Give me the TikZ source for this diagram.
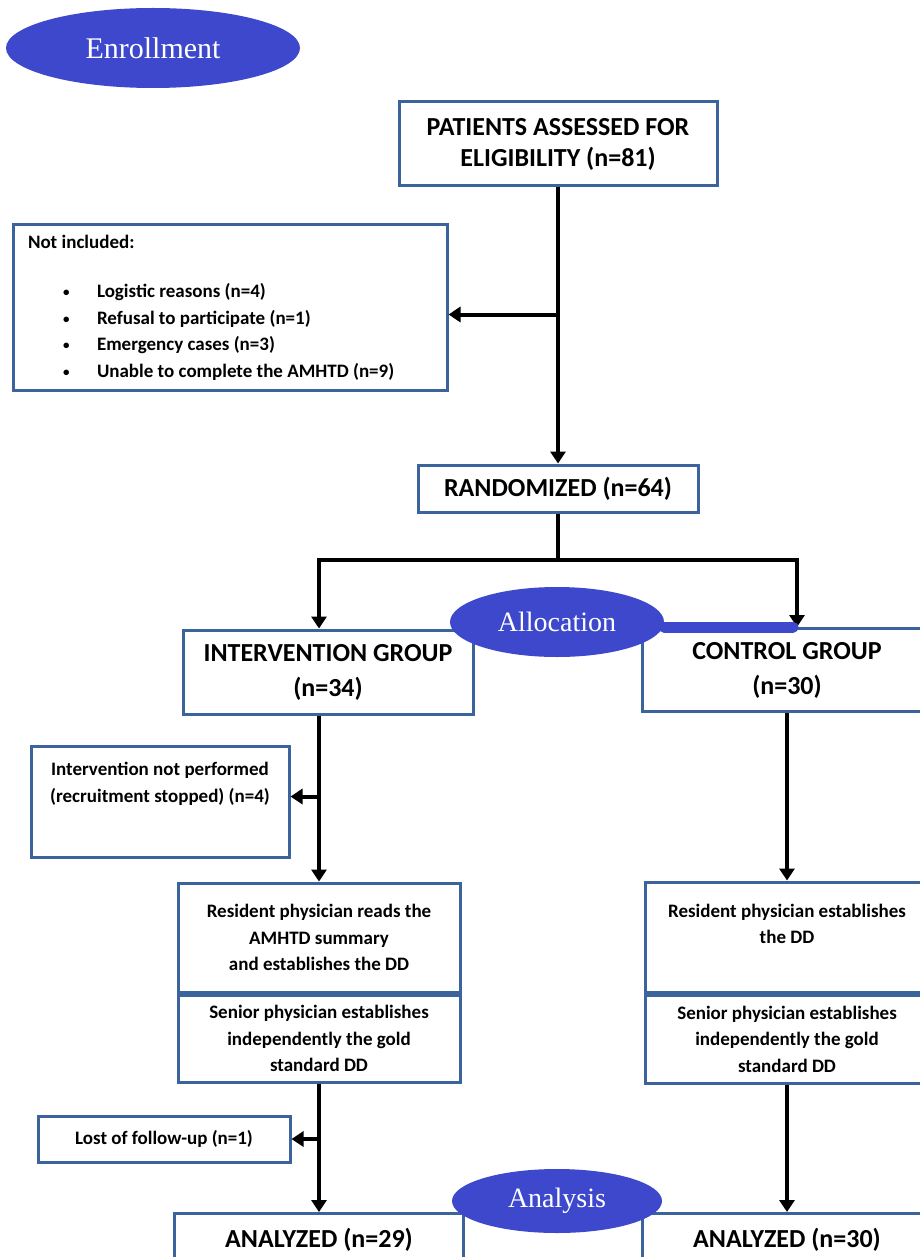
\documentclass[tikz,border=0pt]{standalone}
\usepackage{fontspec}
\setmainfont{Carlito}
\newfontfamily\phasefont{Liberation Serif}
\usetikzlibrary{shapes.geometric,arrows.meta,positioning}
\definecolor{phaseblue}{RGB}{62,72,204}
\definecolor{boxline}{RGB}{58,100,155}
\newcommand{\bigtxt}{\fontsize{26}{31}\selectfont\bfseries}
\newcommand{\smalltxt}{\fontsize{19}{26.5}\selectfont\bfseries}
\newcommand{\bul}{\hspace*{35pt}\makebox[34pt][l]{\raisebox{1pt}{\fontsize{13}{13}\selectfont\textbullet}}}

\begin{document}
\begin{tikzpicture}[x=1pt,y=-1pt,
  box/.style={draw=boxline, line width=3pt, fill=white, align=center, inner sep=0pt},
  phase/.style={ellipse, fill=phaseblue, text=white, inner sep=0pt, font={\phasefont\fontsize{28}{28}\selectfont}},
  arr/.style={line width=4pt, -{Triangle[length=12pt,width=15pt]}}]
\useasboundingbox (0,0) rectangle (920,1257);

% enrollment
\node[box, minimum width=318pt, minimum height=84pt, font=\bigtxt] (assess) at (558,144) {PATIENTS ASSESSED FOR\\ELIGIBILITY (n=81)};
\node[box, minimum width=434pt, minimum height=165pt, text width=404pt, align=flush left, font=\smalltxt] (excl) at (230,307.5)
  {Not included:\\[23pt]
   \bul Logistic reasons (n=4)\\
   \bul Refusal to participate (n=1)\\
   \bul Emergency cases (n=3)\\
   \bul Unable to complete the AMHTD (n=9)};
\node[box, minimum width=280pt, minimum height=47pt, font=\bigtxt] (rand) at (558,488.5) {RANDOMIZED (n=64)};

% allocation
\node[box, minimum width=290pt, minimum height=84pt, font=\bigtxt] (interv) at (328,672) {INTERVENTION GROUP\\[4pt](n=34)};
\node[box, minimum width=290pt, minimum height=83pt, font=\bigtxt] (ctrl) at (787,670) {CONTROL GROUP\\[4pt](n=30)};
\node[box, minimum width=258pt, minimum height=111pt, font=\smalltxt] (notperf) at (160,801.5) {Intervention not performed\\(recruitment stopped) (n=4)\\[12pt]\mbox{}};
\node[box, minimum width=282pt, minimum height=109pt, font=\smalltxt] (resL) at (319,937.5) {Resident physician reads the\\AMHTD summary\\and establishes the DD};
\node[box, minimum width=282pt, minimum height=87pt, font=\smalltxt, below=0pt of resL] (senL) {Senior physician establishes\\independently the gold\\standard DD};
\node[box, minimum width=284pt, minimum height=110pt, font=\smalltxt] (resR) at (787,937) {Resident physician establishes\\the DD\\\mbox{}};
\node[box, minimum width=284pt, minimum height=88pt, font=\smalltxt, below=0pt of resR] (senR) {Senior physician establishes\\independently the gold\\standard DD};

% analysis
\node[box, minimum width=252pt, minimum height=46pt, font=\smalltxt] (lost) at (164,1139) {Lost of follow-up (n=1)};
\node[box, minimum width=289pt, minimum height=52pt, font=\bigtxt, anchor=north] (anaL) at (319,1212) {ANALYZED (n=29)};
\node[box, minimum width=289pt, minimum height=52pt, font=\bigtxt, anchor=north] (anaR) at (787,1212) {ANALYZED (n=30)};

\coordinate (exclin) at ([yshift=-7pt]excl.east);
\coordinate (lin) at (interv.north -| resL.north);
\coordinate (cin) at ([xshift=10pt]ctrl.north);
\coordinate (npin) at ([yshift=5pt]notperf.east);

\draw[arr] (assess.south) -- (rand.north);
\draw[arr] (assess.south |- exclin) -- (exclin);
\draw[arr] (rand.south) -- ++(0,46) -| (lin);
\draw[arr] (rand.south) -- ++(0,46) -| (cin);
\draw[arr] (interv.south -| resL.north) -- (resL.north);
\draw[arr] (resL.north |- npin) -- (npin);
\draw[arr] (ctrl.south) -- (resR.north);
\draw[arr] (senL.south) -- (anaL.north);
\draw[arr] (senL.south |- lost.east) -- (lost.east);
\draw[arr] (senR.south) -- (anaR.north);

\node[phase, minimum width=294pt, minimum height=80pt, font={\phasefont\fontsize{30}{30}\selectfont}] (enroll) at (153,48) {Enrollment};
\node[phase, minimum width=214pt, minimum height=70pt] (alloc) at (557,622) {Allocation};
\draw[phaseblue, line width=11pt, line cap=round] (alloc.east |- cin) -- ([xshift=-4pt]cin);
\node[phase, minimum width=210pt, minimum height=64pt] (analys) at (557,1201) {Analysis};
\end{tikzpicture}
\end{document}
